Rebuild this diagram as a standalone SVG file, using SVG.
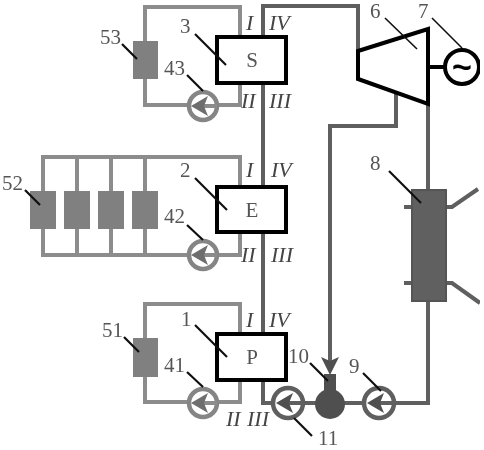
<svg xmlns="http://www.w3.org/2000/svg" width="484" height="450" viewBox="0 0 484 450">
<style>
.lp{fill:none;stroke:#8c8c8c;stroke-width:4}
.dp{fill:none;stroke:#5e5e5e;stroke-width:4}
.blk{fill:#808080}
.box{fill:#fff;stroke:#000;stroke-width:4}
.ld{stroke:#111;stroke-width:2.2;fill:none}
.t{font-family:"Liberation Serif",serif;font-size:21px;fill:#555}
.r{font-family:"Liberation Serif",serif;font-size:22px;font-style:italic;fill:#444}
.pl{fill:#fff;stroke:#858585;stroke-width:4.5}
.pd{fill:#fff;stroke:#5e5e5e;stroke-width:4.5}
.al{fill:#6e6e6e}
.ad{fill:#505050}
</style>
<defs><filter id="soft" x="0" y="0" width="100%" height="100%"><feGaussianBlur stdDeviation="0.45"/></filter></defs>
<rect width="484" height="450" fill="#fff"/>
<g filter="url(#soft)">
<g id="connectors">
<path class="lp" d="M240 37V7H145V105H240V83"/>
<path class="lp" d="M240 187V157H43V255H240V232M77 157V255M111 157V255M145 157V255"/>
<path class="lp" d="M240 334V304H145V402H240V380"/>
<path class="dp" d="M263 37V6H358V51"/>
<path class="dp" d="M263 83V187M263 232V334M263 380V403H428V104"/>
<path class="dp" d="M396 90V126H330V362"/>
<path class="dp" d="M404 207H411M404 283H411M446 207H452L478 189M446 283H452L480 303"/>
<path d="M428 67H446" stroke="#000" stroke-width="4" fill="none"/>
<polygon class="ad" points="330,375 321,357 330,361 339,357"/>
</g>
<g id="node-3"><rect class="box" x="217" y="37" width="69" height="46"/><text class="t" x="252" y="67" text-anchor="middle">S</text><path class="ld" d="M195 34L226 65"/><text class="t" x="180" y="33">3</text></g>
<g id="node-2"><rect class="box" x="217" y="187" width="69" height="45"/><text class="t" x="252" y="217" text-anchor="middle">E</text><path class="ld" d="M195 178L227 210"/><text class="t" x="180" y="177">2</text></g>
<g id="node-1"><rect class="box" x="217" y="334" width="69" height="46"/><text class="t" x="252" y="364" text-anchor="middle">P</text><path class="ld" d="M195 325L227 357"/><text class="t" x="181" y="326">1</text></g>
<g id="node-53"><rect class="blk" x="133" y="41" width="25" height="38"/><path class="ld" d="M122 44L137 59"/><text class="t" x="100" y="44">53</text></g>
<g id="node-52">
<rect class="blk" x="30" y="191" width="26" height="38"/><rect class="blk" x="64" y="191" width="26" height="38"/><rect class="blk" x="98" y="191" width="26" height="38"/><rect class="blk" x="132" y="191" width="26" height="38"/>
<path class="ld" d="M25 190L40 205"/><text class="t" x="2" y="190">52</text></g>
<g id="node-51"><rect class="blk" x="133" y="338" width="25" height="39"/><path class="ld" d="M124 337L139 352"/><text class="t" x="102" y="337">51</text></g>
<g id="node-43"><circle class="pl" cx="203" cy="106" r="14"/><path class="lp" d="M196 106H217"/><polygon class="al" points="191,106 208,96 204,106 208,116"/><path class="ld" d="M187 75L203 91"/><text class="t" x="164" y="75">43</text></g>
<g id="node-42"><circle class="pl" cx="203" cy="255" r="14"/><path class="lp" d="M196 255H217"/><polygon class="al" points="191,255 208,245 204,255 208,265"/><path class="ld" d="M187 225L203 240"/><text class="t" x="164" y="223">42</text></g>
<g id="node-41"><circle class="pl" cx="203" cy="403" r="14"/><path class="lp" d="M196 403H217"/><polygon class="al" points="191,403 208,393 204,403 208,413"/><path class="ld" d="M187 372L203 387"/><text class="t" x="164" y="372">41</text></g>
<g id="node-11"><circle class="pd" cx="288" cy="403" r="15"/><path class="dp" d="M281 403H303"/><polygon class="ad" points="276,403 293,393 289,403 293,413"/><path class="ld" d="M294 418L312 436"/><text class="t" x="318" y="445">11</text></g>
<g id="node-9"><circle class="pd" cx="379" cy="403" r="15"/><path class="dp" d="M372 403H394"/><polygon class="ad" points="367,403 384,393 380,403 384,413"/><path class="ld" d="M363 373L381 391"/><text class="t" x="349" y="373">9</text></g>
<g id="node-10"><rect x="324" y="374" width="12" height="20" fill="#505050"/><circle cx="330" cy="404" r="15" fill="#505050"/><path class="ld" d="M310 363L328 381"/><text class="t" x="288" y="363">10</text></g>
<g id="node-6"><polygon points="358,51 428,29 428,104 358,79" fill="#fff" stroke="#000" stroke-width="4"/><path d="M385 18L417 49" stroke="#111" stroke-width="1.6" fill="none"/><text class="t" x="370" y="18">6</text></g>
<g id="node-7"><circle cx="462" cy="67" r="17" fill="#fff" stroke="#000" stroke-width="4"/><text x="462" y="78" text-anchor="middle" font-family="Liberation Sans,sans-serif" font-size="34" font-weight="bold" fill="#000">~</text><path d="M432 18L462 48" stroke="#111" stroke-width="1.6" fill="none"/><text class="t" x="418" y="18">7</text></g>
<g id="node-8"><rect x="412" y="190" width="34" height="111" fill="#606060" stroke="#555" stroke-width="2"/><path class="ld" d="M389 171L421 203"/><text class="t" x="370" y="170">8</text></g>
<g id="labels">
<text class="r" x="246" y="30">I</text><text class="r" x="269" y="30">IV</text><text class="r" x="241" y="108">II</text><text class="r" x="269" y="108">III</text>
<text class="r" x="246" y="177">I</text><text class="r" x="271" y="177">IV</text><text class="r" x="241" y="262">II</text><text class="r" x="271" y="262">III</text>
<text class="r" x="246" y="327">I</text><text class="r" x="269" y="327">IV</text><text class="r" x="226" y="426">II</text><text class="r" x="247" y="426">III</text>
</g>
</g>
</svg>
